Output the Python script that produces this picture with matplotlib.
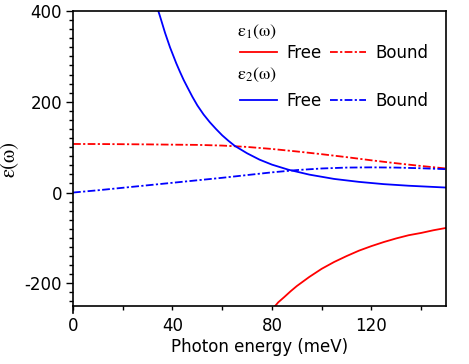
import matplotlib
matplotlib.use("Agg")
import matplotlib.pyplot as plt
from matplotlib.ticker import MultipleLocator
from matplotlib.lines import Line2D

plt.rcParams["axes.unicode_minus"] = False
plt.rcParams["mathtext.fontset"] = "stix"

# photon energy (meV) and dielectric function values
x_free2 = [34.3, 35, 36, 37, 38, 39, 40, 41.5, 43, 44.5, 46, 48, 50, 52.5, 55, 57.5, 60, 62.5,
           65, 70, 75, 80, 86.5, 95, 105, 115, 125, 135, 150]
eps2_free = [400, 388, 370, 352, 336, 320, 306, 285, 266, 248, 232, 211, 192, 172, 155, 140, 126, 114,
             103, 86.5, 72.5, 61.5, 50.5, 39.5, 30, 23.5, 18.5, 15, 11]

x_free1 = [80.5, 82.5, 85, 87.5, 90, 95, 100, 105, 110, 115, 120, 125, 130, 135, 140, 145, 150]
eps1_free = [-255, -242, -230, -217.5, -206, -186, -168, -153, -140, -128, -118, -109, -101, -94, -89, -83, -78]

x_bound = [0, 10, 20, 30, 40, 50, 60, 70, 80, 90, 100, 110, 120, 130, 140, 150]
eps1_bound = [107, 106.9, 106.5, 106.1, 105.5, 105, 103.5, 100.5, 96, 90.5, 84.5, 78, 71, 64.5, 58.5, 53]
eps2_bound = [0, 5, 10.5, 16, 21.5, 27, 32.5, 38.5, 44.5, 49.5, 53, 55, 55.5, 55, 53.5, 51.5]

x_ticks = [0, 40, 80, 120]
y_ticks = [-200, 0, 200, 400]

serif = "STIXGeneral"
dashdot = (0, (4.3, 1.3, 1.2, 1.3))

fig = plt.figure(figsize=(4.69, 3.64), dpi=100)
ax = fig.add_axes([0.1557, 0.1593, 0.7953, 0.8105])

ax.plot(x_free1, eps1_free, color="red", lw=1.3)
ax.plot(x_bound, eps1_bound, color="red", lw=1.3, linestyle=dashdot)
ax.plot(x_free2, eps2_free, color="blue", lw=1.3)
ax.plot(x_bound, eps2_bound, color="blue", lw=1.3, linestyle=dashdot)

ax.set_xlim(0, 150)
ax.set_ylim(-250, 400)
ax.set_xticks(x_ticks)
ax.set_yticks(y_ticks)
ax.xaxis.set_minor_locator(MultipleLocator(20))
ax.yaxis.set_minor_locator(MultipleLocator(20))
ax.tick_params(axis="x", which="both", direction="out", length=3, width=1, labelsize=12, pad=5)
ax.tick_params(axis="y", which="major", direction="out", length=5, width=1, labelsize=12, pad=3)
ax.tick_params(axis="y", which="minor", direction="out", length=3, width=1)
for s in ax.spines.values():
    s.set_linewidth(1.2)

ax.set_xlabel("Photon energy (meV)", fontsize=12, labelpad=2)
ax.set_ylabel("ε(ω)", fontsize=15, family=serif)
ax.yaxis.set_label_coords(-0.143, 0.5)

# little overshoot of the left axis below the bottom axis
ax.plot([0, 0], [-0.025, 0], transform=ax.transAxes, color="black", lw=1.2, clip_on=False)

# legend with headers
handles = [
    Line2D([], [], color="red", lw=1.3),
    Line2D([], [], color="blue", lw=1.3),
    Line2D([], [], color="red", lw=1.3, linestyle=dashdot),
    Line2D([], [], color="blue", lw=1.3, linestyle=dashdot),
]
labels = ["Free", "Free", "Bound", "Bound"]
ax.legend(handles, labels, ncol=2, loc="upper left", bbox_to_anchor=(0.448, 0.888),
          frameon=False, fontsize=12, handlelength=2.2, handletextpad=0.55,
          columnspacing=0.5, labelspacing=1.8, borderpad=0, borderaxespad=0)
ax.text(0.44, 0.930, "ε$_1$(ω)", transform=ax.transAxes, family=serif, fontsize=13, va="center")
ax.text(0.44, 0.783, "ε$_2$(ω)", transform=ax.transAxes, family=serif, fontsize=13, va="center")

fig.savefig("out.png", dpi=100)
